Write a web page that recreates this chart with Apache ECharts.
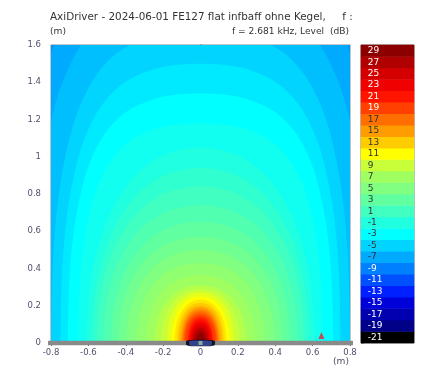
<!DOCTYPE html>
<html>
<head>
<meta charset="utf-8">
<script src="https://cdn.jsdelivr.net/npm/echarts@6/dist/echarts.min.js"></script>
<style>
html,body{margin:0;padding:0;background:#fff;}
#chart{width:425px;height:371px;}
</style>
</head>
<body>
<div id="chart"></div>
<script>
// ---- colour bar (dB levels, band colours) ----
const cbLevels = [-21,-19,-17,-15,-13,-11,-9,-7,-5,-3,-1,1,3,5,7,9,11,13,15,17,19,21,23,25,27,29];
const cbColors = ['#000000','#000088','#0000b0','#0000d8','#0020ff','#0050ff','#0080ff','#00aaff','#00d4ff','#00ffff',
                  '#20ffe0','#40ffc0','#60ffa0','#80ff80','#a0ff60','#c8ff38','#ffff00','#ffcc00','#ff9c00','#ff6e00',
                  '#ff4000','#ff1400','#f00000','#d40000','#b00000','#8c0000'];
const cbLabelColors = ['#fff','#fff','#fff','#fff','#fff','#fff','#fff','#333','#333','#333',
                       '#333','#333','#333','#333','#333','#333','#333','#333','#333','#333',
                       '#fff','#fff','#fff','#fff','#fff','#fff'];
// ---- contour bands of the level field (1 dB steps) ----
const bandLevels = [-9,-8,-7,-6,-5,-4,-3,-2,-1,0,1,2,3,4,5,6,7,8,9,10,11,12,13,14,15,16,17,18,19,20,21,22,23,24,25,26,27,28,29];
// height (m) of each band's lower edge on the axis x = 0
const bandAxisHeight = [2.67,2.38,2.12,1.89,1.68,1.50,1.34,1.18,1.05,0.94,0.84,0.74,0.65,0.57,0.50,0.43,0.365,0.31,0.29,0.272,
                        0.25,0.232,0.215,0.20,0.19,0.18,0.17,0.16,0.15,0.14,0.13,0.12,0.11,0.10,0.09,0.08,0.07,0.06,0.048];
// half-width (m) of each band's lower edge along the baffle y = 0
const bandBaffleHalfWidth = [1.12,1.05,0.97,0.90,0.80,0.75,0.71,0.655,0.61,0.58,0.555,0.52,0.48,0.44,0.395,0.345,0.29,0.245,0.21,0.18,
                             0.155,0.139,0.125,0.116,0.105,0.099,0.094,0.088,0.083,0.07,0.065,0.06,0.055,0.05,0.045,0.04,0.035,0.03,0.024];
// which outline each band follows: 0 = far field (straight sides), 1 = near field (rounder dome)
const bandShape = [0,0,0,0,0,0,0,0,1,1,1,1,1,1,1,1,1,1,1,1,1,1,1,1,1,1,1,1,1,1,1,1,1,1,1,1,1,1,1];
// normalised contour outlines (u = x / half-width, v = y / height), top to baffle
const shapeU = [0, 0.3, 0.55, 0.72, 0.85, 0.94, 0.985, 1.0];
const shapeV = [
  [1, 0.985, 0.93, 0.84, 0.70, 0.50, 0.28, 0.0],
  [1, 0.967, 0.87, 0.74, 0.58, 0.39, 0.21, 0.0]
];
// markers
const driverPos = [[0,0]];
const probePos = [[0.647,0.04]];
const xTicks = {min:-0.8,max:0.8,step:0.2};
const yTicks = {min:0,max:1.6,step:0.2};

function hex2rgb(h){return [parseInt(h.substr(1,2),16),parseInt(h.substr(3,2),16),parseInt(h.substr(5,2),16)];}
function colorFor(lv){
  const idx = (lv+21)/2;
  const i0 = Math.floor(idx), i1 = Math.min(cbColors.length-1, Math.ceil(idx));
  const t = idx - i0;
  const a = hex2rgb(cbColors[i0]), b = hex2rgb(cbColors[i1]);
  const c = a.map((v,k)=>Math.round(v+(b[k]-v)*t));
  return 'rgb('+c.join(',')+')';
}

const FONT = 'DejaVu Sans';
const chart = echarts.init(document.getElementById('chart'), null, {renderer:'canvas'});

const contourData = bandLevels.map((lv,i)=>[0,0,i]);
const heatData = cbLevels.map((lv,i)=>({
  value:[0,i,lv],
  itemStyle:{color:cbColors[i]},
  label:{color:cbLabelColors[i]}
}));

function renderContour(params, api){
  const i = api.value(2);
  const h = bandAxisHeight[i], w = bandBaffleHalfWidth[i];
  const sv = shapeV[bandShape[i]];
  const pts = [];
  for (let k=shapeU.length-1;k>=0;k--) pts.push(api.coord([-w*shapeU[k], h*sv[k]]));
  for (let k=1;k<shapeU.length;k++) pts.push(api.coord([w*shapeU[k], h*sv[k]]));
  pts.push(api.coord([w, -0.15*h]));
  pts.push(api.coord([-w, -0.15*h]));
  const cs = params.coordSys;
  return {
    type:'polygon',
    shape:{points:pts, smooth:0.3},
    style:{fill:colorFor(bandLevels[i]), stroke:null},
    clipPath:{type:'rect', shape:{x:cs.x, y:cs.y, width:cs.width, height:cs.height}}
  };
}

const labelStyle = {fontFamily:FONT, fontSize:8.5, color:'#50506e'};

chart.setOption({
  animation:false,
  backgroundColor:'#ffffff',
  grid:[
    {left:51, top:45, width:299, height:298, show:true, borderColor:'#8a8a8a', borderWidth:1, backgroundColor:colorFor(-9)},
    {left:361, top:45, width:53, height:298, show:true, borderColor:'#7a7a7a', borderWidth:1}
  ],
  xAxis:[
    {gridIndex:0, type:'value', min:xTicks.min, max:xTicks.max, interval:xTicks.step, position:'bottom',
     axisLine:{show:false}, axisTick:{show:false}, splitLine:{show:false},
     axisLabel:Object.assign({margin:5}, labelStyle)},
    {gridIndex:0, type:'value', min:xTicks.min, max:xTicks.max, interval:xTicks.step, position:'top',
     axisLine:{show:true, lineStyle:{color:'#8a8a8a', width:1.5}},
     axisTick:{show:true, inside:true, length:3, lineStyle:{color:'#666'}},
     axisLabel:{show:false}, splitLine:{show:false}},
    {gridIndex:1, type:'category', data:['c'], show:false}
  ],
  yAxis:[
    {gridIndex:0, type:'value', min:yTicks.min, max:yTicks.max, interval:yTicks.step, position:'left',
     axisLine:{show:true, lineStyle:{color:'#a88a8a', width:1.5}},
     axisTick:{show:true, inside:true, length:3, lineStyle:{color:'#b09090'}},
     axisLabel:Object.assign({margin:10}, labelStyle), splitLine:{show:false}},
    {gridIndex:0, type:'value', min:yTicks.min, max:yTicks.max, interval:yTicks.step, position:'right',
     axisLine:{show:true, lineStyle:{color:'#8a8a8a', width:1.5}},
     axisTick:{show:true, inside:true, length:3, lineStyle:{color:'#666'}},
     axisLabel:{show:false}, splitLine:{show:false}},
    {gridIndex:1, type:'category', data:cbLevels.map(String), show:false, position:'right'},
    {gridIndex:1, type:'value', min:-22, max:30, interval:2/3, position:'left',
     axisLine:{show:false}, axisTick:{show:true, inside:true, length:3, lineStyle:{color:'#8a7fa0'}},
     axisLabel:{show:false}, splitLine:{show:false}}
  ],
  series:[
    {type:'custom', xAxisIndex:0, yAxisIndex:0, data:contourData, renderItem:renderContour,
     encode:{x:0, y:1}, silent:true, z:1},
    {type:'line', xAxisIndex:0, yAxisIndex:0, data:[[-0.81,0],[0.81,0]], symbol:'none', clip:false,
     lineStyle:{color:'#8a8a8a', width:4.5, cap:'round'}, silent:true, z:5},
    {type:'scatter', xAxisIndex:0, yAxisIndex:0, data:driverPos, symbol:'roundRect', symbolSize:[26,6], clip:false,
     itemStyle:{color:'#1c2f8f', borderColor:'#000', borderWidth:1.5}, silent:true, z:6},
    {type:'scatter', xAxisIndex:0, yAxisIndex:0, data:driverPos, symbol:'rect', symbolSize:[4,4], clip:false,
     itemStyle:{color:'#9cc89c'}, silent:true, z:7},
    {type:'scatter', xAxisIndex:0, yAxisIndex:0, data:probePos, symbol:'triangle', symbolSize:[6,7], clip:false,
     itemStyle:{color:'#e8242c'}, silent:true, z:6},
    {type:'heatmap', xAxisIndex:2, yAxisIndex:2, data:heatData, silent:true,
     label:{show:true, position:'insideLeft', distance:7, fontFamily:FONT, fontSize:9,
            formatter:(p)=>String(p.value[2])}}
  ],
  graphic:[
    {type:'text', x:50, y:17, silent:true,
     style:{text:'AxiDriver - 2024-06-01 FE127 flat infbaff ohne Kegel,     f :', fontFamily:FONT, fontSize:10.4,
            fill:'#333', verticalAlign:'middle', align:'left'}},
    {type:'text', x:50, y:32, silent:true,
     style:{text:'(m)', fontFamily:FONT, fontSize:9.1, fill:'#333', verticalAlign:'middle', align:'left'}},
    {type:'text', x:349, y:32, silent:true,
     style:{text:'f = 2.681 kHz, Level  (dB)', fontFamily:FONT, fontSize:9.1, fill:'#333', verticalAlign:'middle', align:'right'}},
    {type:'text', x:349, y:362, silent:true,
     style:{text:'(m)', fontFamily:FONT, fontSize:9.1, fill:'#50506e', verticalAlign:'middle', align:'right'}}
  ]
});
</script>
</body>
</html>
